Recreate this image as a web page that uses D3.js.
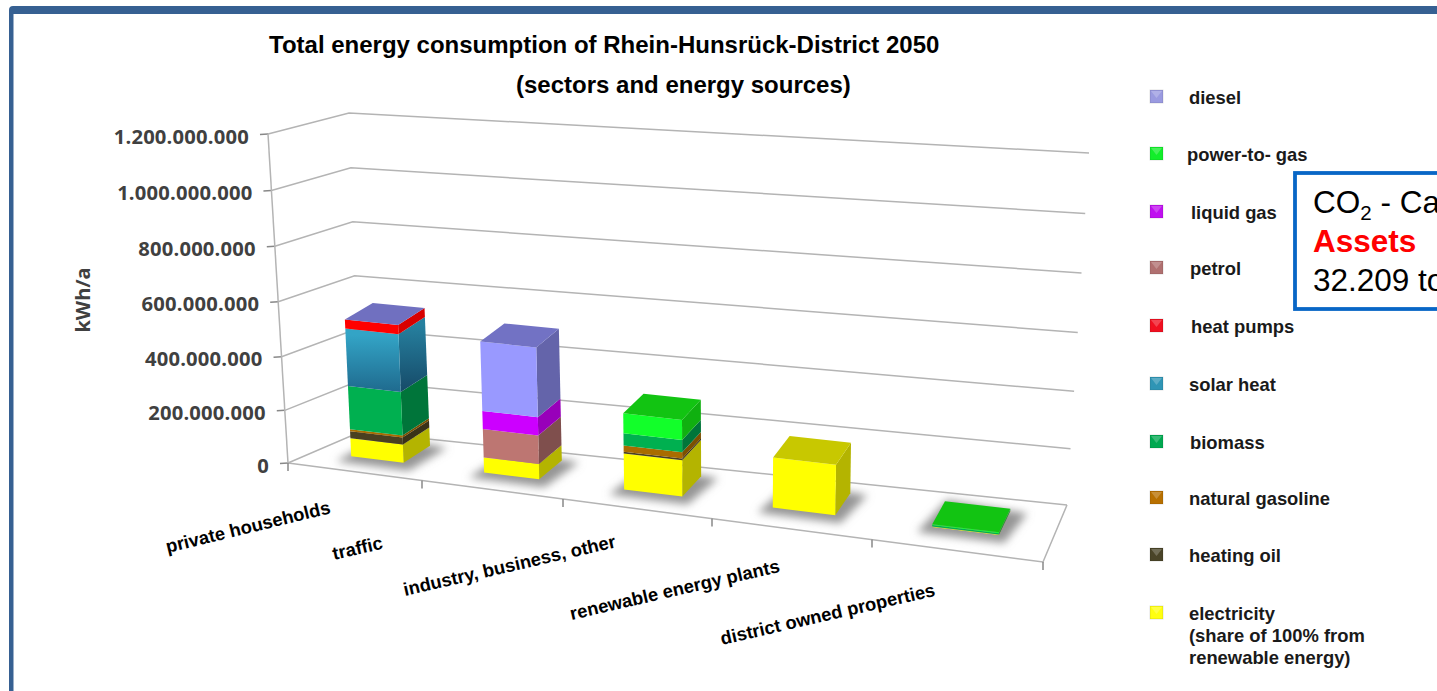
<!DOCTYPE html>
<html><head><meta charset="utf-8">
<script src="https://cdnjs.cloudflare.com/ajax/libs/d3/7.8.5/d3.min.js"></script>
<style>html,body{margin:0;padding:0;background:#fff;overflow:hidden}svg{display:block}</style>
</head><body><svg id="c" width="1437" height="691"></svg>
<script>
const categories = ["private households","traffic","industry, business, other","renewable energy plants","district owned properties"];
const electricity = [69, 57, 134, 184, 2];
const heatingOil = [27, 0, 7, 0, 0];
const naturalGasoline = [8, 0, 23, 0, 0];
const biomass = [164, 0, 45, 0, 5];
const solarHeat = [214, 0, 0, 0, 0];
const heatPumps = [33, 0, 0, 0, 0];
const petrol = [0, 107, 0, 0, 0];
const liquidGas = [0, 68, 0, 0, 0];
const powerToGas = [0, 0, 73, 0, 3];
const diesel = [0, 255, 0, 0, 0];
const seriesNames = ["electricity","heating oil","natural gasoline","biomass","solar heat","heat pumps","petrol","liquid gas","power-to- gas","diesel"];
const seriesValues = [electricity,heatingOil,naturalGasoline,biomass,solarHeat,heatPumps,petrol,liquidGas,powerToGas,diesel];
const yTicks = [0,200e6,400e6,600e6,800e6,1000e6,1200e6];
const yTickDepth = [0,.16,.323,.49,.659,.828,1];
const front = {electricity:"#ffff00","heating oil":"#4a4020","natural gasoline":"#a96c00",biomass:"#00b050","solar heat":"url(#sol)","heat pumps":"#ff0000",petrol:"#bd7672","liquid gas":"#cc00ff","power-to- gas":"#12ff2a",diesel:"#9999ff"};
const side = {electricity:"#b4b400","heating oil":"#3a3218","natural gasoline":"#7c5000",biomass:"#00753a","solar heat":"url(#sol2)","heat pumps":"#d80000",petrol:"#7f4f4d","liquid gas":"#9800ba","power-to- gas":"#10b010",diesel:"#6464aa"};
const topc = {electricity:"#c8c800","heating oil":"#4a4020","natural gasoline":"#a96c00",biomass:"#00b050","solar heat":"#2a7fa0","heat pumps":"#7070c0",petrol:"#bd7672","liquid gas":"#cc00ff","power-to- gas":"#12c412",diesel:"#7272c4"};
const legendRows = [["diesel","#9a9ae0",1189,98],["power-to- gas","#12ee2a",1187,155],["liquid gas","#c010f0",1191,213],["petrol","#b07070",1190,269],["heat pumps","#f01020",1191,327],["solar heat","#2f95b5",1189,385],["biomass","#00a850",1190,443],["natural gasoline","#b87000",1189,499],["heating oil","#4a4428",1189,556],["electricity","#ffff10",1189,614]];

const svg = d3.select("#c");
const defs = svg.append("defs");
const gr=(id,a,b)=>{const g=defs.append("linearGradient").attr("id",id).attr("x1",0).attr("x2",0).attr("y1",0).attr("y2",1);
 g.append("stop").attr("offset",0.1).attr("stop-color",a);g.append("stop").attr("offset",1).attr("stop-color",b);};
gr("sol","#33a4c6","#1f6a8e");gr("sol2","#26809f","#164a68");
defs.append("filter").attr("id","blur").attr("x","-40%").attr("y","-80%").attr("width","180%").attr("height","260%")
 .append("feGaussianBlur").attr("stdDeviation",4.5);

// frame
svg.append("rect").attr("x",9).attr("y",6).attr("width",1500).attr("height",800).attr("rx",4).attr("fill","#366092");
svg.append("rect").attr("x",13.5).attr("y",14).attr("width",1500).attr("height",800).attr("fill","#fff");

// projection: warp the category axis by perspective, then blend the chart box's corners
const uWarp = d3.scaleLinear().domain([0,.2,.4,.6,.8,1]).range([0,134,275,424,584,755].map(d=>d/755));
const mix=(a,b,t)=>[a[0]+(b[0]-a[0])*t,a[1]+(b[1]-a[1])*t];
const quad=(fl,fr,br,bl)=>(u,w)=>{const t=uWarp(u);return mix(mix(fl,fr,t),mix(bl,br,t),w);};
const floorQ = quad([288,463],[1043,562],[1067,505],[360,432]);
const ceilQ  = quad([268,134],[1052,212],[1089,153],[349,113]);
const valueT = d3.scaleLinear().domain(yTicks).range(yTickDepth);
const P=(u,w,v)=>mix(floorQ(u,w),ceilQ(u,w),valueT(v));
const line=d3.line();
const grid="#b4b4b4";
const axes=svg.append("g").attr("fill","none").attr("stroke",grid).attr("stroke-width",1.5);
yTicks.forEach(v=>{
 axes.append("path").attr("d",line([P(0,0,v),P(0,1,v),P(1,1,v)]));
 const p=P(0,0,v);
 axes.append("path").attr("d",line([[p[0]-8,p[1]+0.5],p])).attr("stroke","#888");
});
axes.append("path").attr("d",line([P(0,0,0),P(0,0,1200e6)]));
axes.append("path").attr("d",line([P(0,0,0),P(1,0,0),P(1,1,0)]));
d3.range(0,6).forEach(i=>{const p=P(i/5,0,0);axes.append("path").attr("d",line([p,[p[0],p[1]+8]])).attr("stroke","#888");});

const fmt=d3.formatLocale({decimal:",",thousands:".",grouping:[3],currency:["",""]}).format(",");
const tickFont="'Open Sans'";
yTicks.forEach(v=>{const p=P(0,0,v);
 svg.append("text").attr("x",p[0]-19).attr("y",p[1]+9.5).attr("text-anchor","end").attr("font-family",tickFont)
  .attr("font-weight",700).attr("font-size",20.2).attr("letter-spacing",0.2).attr("fill","#404040").text(fmt(v));});
svg.append("text").attr("transform","translate(90,300) rotate(-90)").attr("text-anchor","middle").attr("font-family",tickFont)
 .attr("font-weight",700).attr("font-size",20).attr("fill","#404040").text("kWh/a");

// bars
const band=d3.scaleBand().domain(categories).range([-0.003,0.997]).paddingInner(0.6).paddingOuter(0.3);
const W0=0.36;
const depthX=d3.scaleLinear().domain([0,1]).range([29,10]);
const depthY=d3.scaleLinear().domain([0,1]).range([-16,-24]);
const corner=(u,back,v)=>{const p=P(u,W0,v);return back?[p[0]+depthX(u),p[1]+depthY(u)]:p;};
const stack=d3.stack().keys(d3.range(seriesNames.length)).value((d,k)=>seriesValues[k][d]*1e6)(d3.range(categories.length));
const sh=svg.append("g").attr("filter","url(#blur)").attr("fill","#959595");
const bars=svg.append("g");
categories.forEach((c,i)=>{
 const u0=band(c),u1=u0+band.bandwidth();
 const a0=corner(u0,0,0),a1=corner(u1,0,0),b1=corner(u1,1,0),b0=corner(u0,1,0);
 sh.append("path").attr("d",line([[a0[0]-15,a0[1]+5],[a1[0]+5,a1[1]+8],[b1[0]+17,b1[1]+2],[b0[0]+2,b0[1]-4]])+"Z");
 const g=bars.append("g");
 let last=null;
 seriesNames.forEach((n,k)=>{
  const [a,b]=stack[k][i]; if(b<=a) return; last=n;
  g.append("path").attr("d",line([corner(u1,0,a),corner(u1,1,a),corner(u1,1,b),corner(u1,0,b)])+"Z").attr("fill",side[n]);
  g.append("path").attr("d",line([corner(u0,0,a),corner(u1,0,a),corner(u1,0,b),corner(u0,0,b)])+"Z").attr("fill",front[n]);
 });
 const tv=d3.max(stack,s=>s[i][1]);
 g.append("path").attr("d",line([corner(u0,0,tv),corner(u1,0,tv),corner(u1,1,tv),corner(u0,1,tv)])+"Z").attr("fill",topc[last]);
});

// category labels
const labelPos=[[167.5,553,-13.7],[334,560,-13],[405,596,-13],[571.5,620,-13],[722,645,-13]];
categories.forEach((c,i)=>{const [x,y,r]=labelPos[i];
 svg.append("text").attr("transform",`translate(${x},${y}) rotate(${r})`).attr("font-family","'Liberation Sans'")
  .attr("font-weight",700).attr("font-size",18.4).attr("fill","#000").text(c);});

// titles
const sans="'Liberation Sans'";
svg.append("text").attr("x",269).attr("y",53).attr("font-family",sans).attr("font-weight",700).attr("font-size",24).text("Total energy consumption of Rhein-Hunsrück-District 2050");
svg.append("text").attr("x",516).attr("y",93).attr("font-family",sans).attr("font-weight",700).attr("font-size",24).text("(sectors and energy sources)");

// legend
legendRows.forEach(([n,col,x,y])=>{
 const g=svg.append("g");
 g.append("rect").attr("x",1150).attr("y",y-8).attr("width",13).attr("height",13).attr("fill",col).attr("stroke","#000").attr("stroke-opacity",0.12);
 g.append("path").attr("d",line([[1151,y-7],[1162,y-7],[1156.5,y]])+"Z").attr("fill","#fff").attr("fill-opacity",0.22);
 g.append("text").attr("x",x).attr("y",y+6).attr("font-family",sans).attr("font-weight",700).attr("font-size",18.4).attr("fill","#1a1a1a").text(n);
});
[["(share of 100% from",1189,642],["renewable energy)",1189,664]].forEach(([t,x,y])=>{
 svg.append("text").attr("x",x).attr("y",y).attr("font-family",sans).attr("font-weight",700).attr("font-size",18.4).attr("fill","#1a1a1a").text(t);});

// callout
svg.append("rect").attr("x",1295).attr("y",173).attr("width",200).attr("height",136).attr("fill","#fff").attr("stroke","#0866c6").attr("stroke-width",3.8);
const ct=svg.append("text").attr("x",1313).attr("y",213).attr("font-family",sans).attr("font-size",31.5).attr("fill","#000");
ct.append("tspan").text("CO");
ct.append("tspan").attr("font-size",20.5).attr("dy",7).text("2");
ct.append("tspan").attr("dy",-7).text(" - Ca");
svg.append("text").attr("x",1313).attr("y",252).attr("font-family",sans).attr("font-weight",700).attr("font-size",31.5).attr("fill","#ff0000").text("Assets");
svg.append("text").attr("x",1313).attr("y",291).attr("font-family",sans).attr("font-size",31.5).attr("fill","#000").text("32.209 to");
</script></body></html>
